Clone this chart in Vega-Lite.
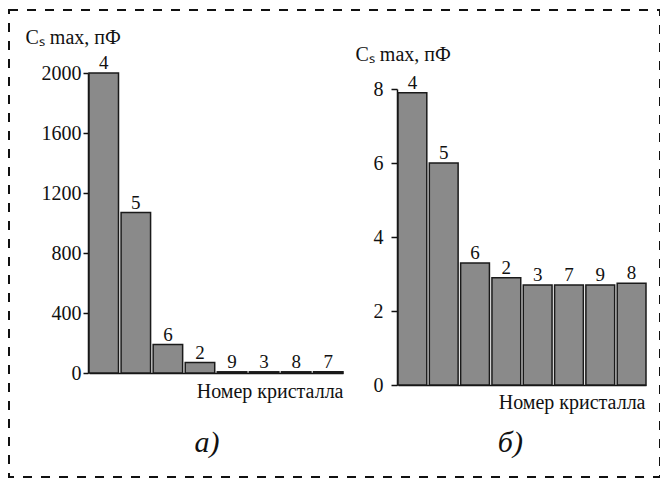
{
  "$schema": "https://vega.github.io/schema/vega-lite/v6.json",
  "width": 651,
  "height": 467,
  "autosize": "none",
  "padding": {"left": 9, "top": 10, "right": 0, "bottom": 2},
  "background": "white",
  "config": {
    "view": {"stroke": "#111", "strokeWidth": 2, "strokeDash": [9, 9]},
    "font": "Liberation Serif",
    "axis": {
      "grid": false,
      "domainColor": "#111",
      "domainWidth": 1.5,
      "tickColor": "#111",
      "tickWidth": 1.5,
      "labelFont": "Liberation Serif",
      "labelFontSize": 20,
      "labelColor": "#111",
      "titleFont": "Liberation Serif",
      "titleFontSize": 20,
      "titleFontWeight": "normal",
      "titleColor": "#111"
    }
  },
  "layer": [
    {
      "data": {
        "values": [
          {"crystal": "4", "c": 2000},
          {"crystal": "5", "c": 1070},
          {"crystal": "6", "c": 190},
          {"crystal": "2", "c": 70},
          {"crystal": "9", "c": 8},
          {"crystal": "3", "c": 8},
          {"crystal": "8", "c": 8},
          {"crystal": "7", "c": 8}
        ]
      },
      "encoding": {
        "x": {
          "field": "crystal",
          "type": "nominal",
          "scale": {"domain": ["4", "5", "6", "2", "9", "3", "8", "7"], "range": [80, 334], "paddingInner": 0.08, "paddingOuter": 0},
          "axis": {
            "orient": "bottom",
            "offset": -104,
            "labels": false,
            "ticks": false,
            "title": "Номер кристалла",
            "titleX": 334,
            "titleY": 24,
            "titleAlign": "right",
            "titleBaseline": "alphabetic"
          }
        },
        "y": {
          "field": "c",
          "type": "quantitative",
          "scale": {"domain": [0, 2000], "range": [363, 63], "nice": false, "zero": true},
          "axis": {
            "orient": "left",
            "offset": -79,
            "values": [0, 400, 800, 1200, 1600, 2000],
            "format": "d",
            "tickSize": 5,
            "labelPadding": 2,
            "title": "Cₛ max, пФ",
            "titleAngle": 0,
            "titleX": -63,
            "titleY": 33,
            "titleAlign": "left",
            "titleBaseline": "alphabetic"
          }
        }
      },
      "layer": [
        {"mark": {"type": "bar", "fill": "#8a8a8a", "stroke": "#1a1a1a", "strokeWidth": 1.5}},
        {"mark": {"type": "text", "baseline": "alphabetic", "dy": -4, "fontSize": 19, "font": "Liberation Serif", "color": "#111"}, "encoding": {"text": {"field": "crystal"}}},
        {
          "data": {"values": [{"crystal": "2", "c": 0, "label": "а)"}]},
          "mark": {"type": "text", "fontStyle": "italic", "fontSize": 30, "dx": 7, "dy": 79, "baseline": "alphabetic", "font": "Liberation Serif", "color": "#111"},
          "encoding": {"text": {"field": "label"}}
        }
      ]
    },
    {
      "data": {
        "values": [
          {"crystal": "4", "c": 7.9},
          {"crystal": "5", "c": 6.0},
          {"crystal": "6", "c": 3.3},
          {"crystal": "2", "c": 2.9},
          {"crystal": "3", "c": 2.7},
          {"crystal": "7", "c": 2.7},
          {"crystal": "9", "c": 2.7},
          {"crystal": "8", "c": 2.75}
        ]
      },
      "encoding": {
        "x": {
          "field": "crystal",
          "type": "nominal",
          "scale": {"domain": ["4", "5", "6", "2", "3", "7", "9", "8"], "range": [389, 637], "paddingInner": 0.08, "paddingOuter": 0},
          "axis": {
            "orient": "bottom",
            "offset": -92,
            "labels": false,
            "ticks": false,
            "title": "Номер кристалла",
            "titleX": 636,
            "titleY": 23,
            "titleAlign": "right",
            "titleBaseline": "alphabetic"
          }
        },
        "y": {
          "field": "c",
          "type": "quantitative",
          "scale": {"domain": [0, 8], "range": [375, 79], "nice": false, "zero": true},
          "axis": {
            "orient": "left",
            "offset": -388,
            "values": [0, 2, 4, 6, 8],
            "format": "d",
            "tickSize": 6,
            "labelPadding": 8,
            "title": "Cₛ max, пФ",
            "titleAngle": 0,
            "titleX": -42,
            "titleY": 50,
            "titleAlign": "left",
            "titleBaseline": "alphabetic"
          }
        }
      },
      "layer": [
        {"mark": {"type": "bar", "fill": "#8a8a8a", "stroke": "#1a1a1a", "strokeWidth": 1.5}},
        {"mark": {"type": "text", "baseline": "alphabetic", "dy": -4, "fontSize": 19, "font": "Liberation Serif", "color": "#111"}, "encoding": {"text": {"field": "crystal"}}},
        {
          "data": {"values": [{"crystal": "2", "c": 0, "label": "б)"}]},
          "mark": {"type": "text", "fontStyle": "italic", "fontSize": 30, "dx": 4, "dy": 67, "baseline": "alphabetic", "font": "Liberation Serif", "color": "#111"},
          "encoding": {"text": {"field": "label"}}
        }
      ]
    }
  ],
  "resolve": {"scale": {"x": "independent", "y": "independent"}}
}
